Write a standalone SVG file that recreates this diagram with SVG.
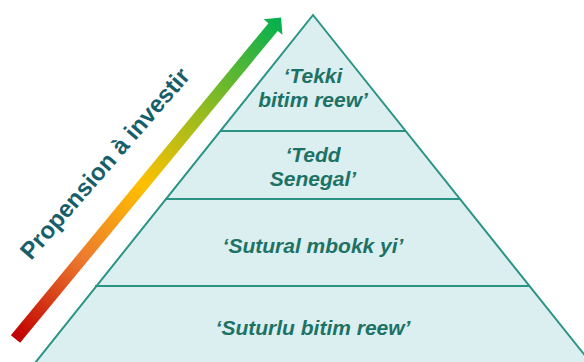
<svg xmlns="http://www.w3.org/2000/svg" width="584" height="362" viewBox="0 0 584 362">
<defs>
<linearGradient id="grad" gradientUnits="userSpaceOnUse" x1="0" y1="0" x2="417" y2="0">
<stop offset="0" stop-color="#c00000"/>
<stop offset="0.25" stop-color="#ec7a2e"/>
<stop offset="0.48" stop-color="#ffc000"/>
<stop offset="0.72" stop-color="#8ebb22"/>
<stop offset="1" stop-color="#00b050"/>
</linearGradient>
<style>
.lvl{fill:#dbeef0;stroke:#2a9484;stroke-width:2}
.t{font-family:"Liberation Sans",Arial,sans-serif;font-weight:bold;font-style:italic;font-size:21px;fill:#1d7266;text-anchor:middle}
.ax{font-family:"Liberation Sans",Arial,sans-serif;font-weight:bold;font-size:24px;fill:#175e6b}
</style>
</defs>
<rect width="584" height="362" fill="#ffffff"/>
<g id="pyramid">
<polygon class="lvl" points="313,15 591,363 35,363"/>
</g>
<g id="connectors">
<line x1="220" y1="131" x2="406" y2="131" stroke="#2a9484" stroke-width="2"/>
<line x1="165" y1="199" x2="460" y2="199" stroke="#2a9484" stroke-width="2"/>
<line x1="95" y1="286" x2="530" y2="286" stroke="#2a9484" stroke-width="2"/>
</g>
<g id="level1">
<text class="t" x="313" y="83">‘Tekki</text>
<text class="t" x="313" y="107">bitim reew’</text>
</g>
<g id="level2">
<text class="t" x="313" y="162">‘Tedd</text>
<text class="t" x="313" y="186">Senegal’</text>
</g>
<g id="level3">
<text class="t" x="313" y="253">‘Sutural mbokk yi’</text>
</g>
<g id="level4">
<text class="t" x="313" y="335">‘Suturlu bitim reew’</text>
</g>
<g id="arrow">
<path transform="translate(15.5,339) rotate(-50.45)" fill="url(#grad)" d="M0,-6 L404.5,-6 L404.5,-12.2 L417,0 L404.5,12.2 L404.5,6 L0,6 Z"/>
<text class="ax" transform="translate(31,261) rotate(-49)" x="0" y="0">Propension à investir</text>
</g>
</svg>
